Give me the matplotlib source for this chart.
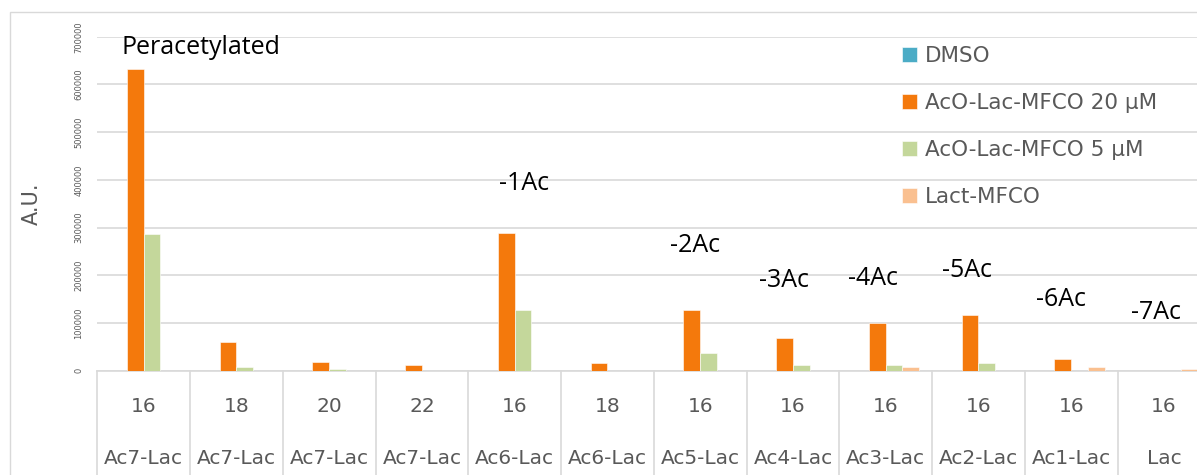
import numpy as np
import matplotlib.pyplot as plt
from matplotlib.patches import Rectangle

# data
chain_lengths = ["16", "18", "20", "22", "16", "18", "16", "16", "16", "16", "16", "16"]
compounds = ["Ac7-Lac", "Ac7-Lac", "Ac7-Lac", "Ac7-Lac", "Ac6-Lac", "Ac6-Lac",
             "Ac5-Lac", "Ac4-Lac", "Ac3-Lac", "Ac2-Lac", "Ac1-Lac", "Lac"]
series_names = ["DMSO", "AcO-Lac-MFCO 20 µM", "AcO-Lac-MFCO 5 µM", "Lact-MFCO"]
dmso = [0, 0, 0, 0, 0, 0, 0, 0, 0, 0, 0, 0]
aco_20 = [632000, 60000, 19000, 12000, 288000, 17000, 127000, 68000, 101000, 117000, 24000, 0]
aco_5 = [287000, 8000, 3000, 0, 127000, 0, 36500, 12000, 12000, 16000, 0, 0]
lact = [0, 0, 0, 0, 0, 0, 0, 0, 7800, 0, 7800, 3500]
group_labels = ["Peracetylated", "-1Ac", "-2Ac", "-3Ac", "-4Ac", "-5Ac", "-6Ac", "-7Ac"]

colors = ["#4BACC6", "#F4790C", "#C4D79B", "#FAC090"]
grid_c = "#D9D9D9"
txt_c = "#595959"

fig = plt.figure(figsize=(11.97, 4.75), dpi=100)
# outer chart border
fig.patches.append(Rectangle((10 / 1197, -0.1), 1.2, 1 - 12 / 475 + 0.1,
                             transform=fig.transFigure, fill=False,
                             edgecolor=grid_c, lw=1))

ax = fig.add_axes([97.3 / 1197, 104.3 / 475, 1113 / 1197, 334 / 475])
x = np.arange(len(compounds))
w = 0.18
for i, (vals, c, name) in enumerate(zip([dmso, aco_20, aco_5, lact], colors, series_names)):
    ax.bar(x + (i - 1.5) * w, vals, w, color=c, label=name,
           edgecolor="white", linewidth=0.4, zorder=3)

ax.set_xlim(-0.5, len(compounds) - 0.5)
ax.set_ylim(0, 700000)
ax.set_yticks(np.arange(0, 700001, 100000))
ax.set_yticklabels([str(v) for v in range(0, 700001, 100000)], rotation=90,
                   va="center", fontsize=6, color=txt_c)
ax.tick_params(axis="y", length=0, pad=10)
ax.tick_params(axis="x", length=0, labelbottom=False)
ax.yaxis.grid(True, color=grid_c, lw=1.2)
ax.set_axisbelow(True)
for s in ["top", "right", "left"]:
    ax.spines[s].set_visible(False)
ax.spines["bottom"].set_color(grid_c)
ax.spines["bottom"].set_linewidth(1.2)
ax.set_ylabel("A.U.", fontsize=15, color=txt_c)
ax.yaxis.set_label_coords(-0.05, 0.5)

# multi-level category axis
trans = ax.get_xaxis_transform()
for k in range(len(compounds) + 1):
    ax.plot([k - 0.5, k - 0.5], [0, -0.5], transform=trans, color=grid_c,
            lw=1.2, clip_on=False)
for xi, (n, c) in enumerate(zip(chain_lengths, compounds)):
    ax.text(xi, -0.108, n, transform=trans, ha="center", va="center",
            fontsize=14.5, color=txt_c)
    ax.text(xi, -0.263, c, transform=trans, ha="center", va="center",
            fontsize=14.5, color=txt_c)

# group annotations
label_pos = [(0.62, 678000), (4.10, 393000), (5.95, 263000), (6.90, 189000),
             (7.86, 194000), (8.88, 211000), (9.89, 150000), (10.91, 122000)]
for lab, (lx, ly) in zip(group_labels, label_pos):
    ax.text(lx, ly, lab, ha="center", va="center", fontsize=18, color="black",
            family="Open Sans")

fig.legend(loc="upper left", bbox_to_anchor=(883 / 1197, 1 - 27 / 475),
           frameon=False, fontsize=15.5, labelcolor=txt_c,
           handlelength=0.7, handleheight=0.7, handletextpad=0.33,
           labelspacing=1.25)

fig.savefig("out.png", dpi=100)
